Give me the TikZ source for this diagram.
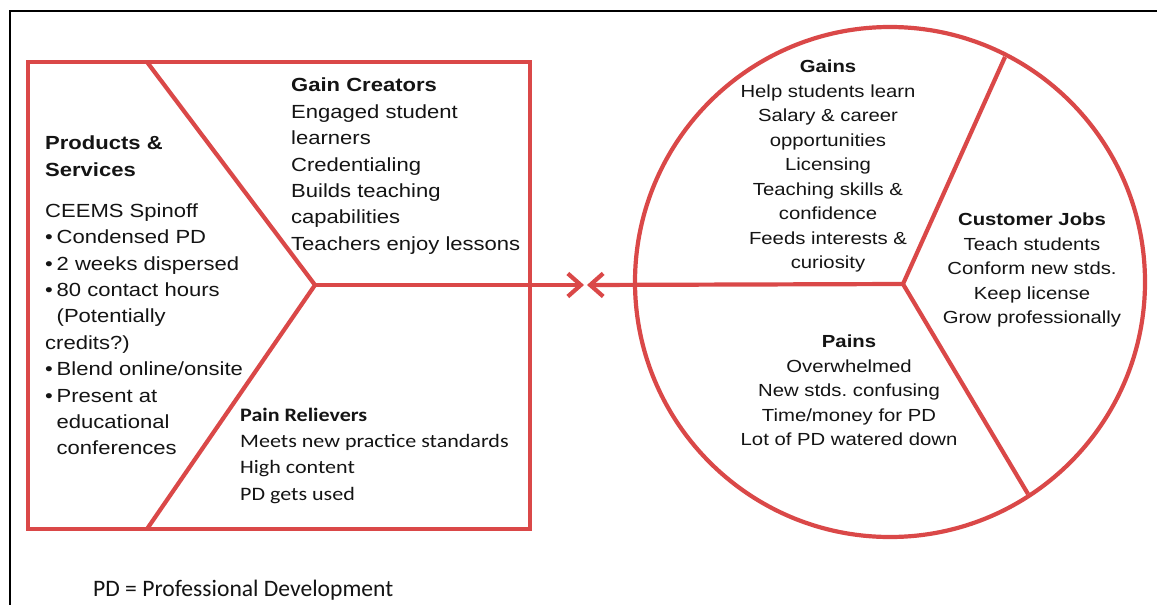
\documentclass[tikz,border=0pt]{standalone}
\usepackage{fontspec}
\setmainfont{Liberation Sans}
\newfontfamily\arialS{Liberation Sans}[FakeStretch=1.16]
\newfontfamily\calS{Carlito}[FakeStretch=1.16]
\newfontfamily\calN{Carlito}
\usetikzlibrary{arrows.meta}
\definecolor{vpred}{RGB}{218,72,72}
\definecolor{txtc}{RGB}{20,20,20}
\newcommand{\bl}{\makebox[11.5pt][l]{•}}
\newcommand{\ind}{\hspace*{11.5pt}}
\frenchspacing
\begin{document}
\begin{tikzpicture}[x=1pt,y=-1pt,
  redline/.style={draw=vpred,line width=4.2pt,line join=miter},
  frameline/.style={draw=black,line width=2.4pt},
  arrowline/.style={draw=vpred,line width=4.2pt,-{Straight Barb[length=13pt,width=23pt]}},
  txtL/.style={inner sep=0pt,align=left,text=txtc,font={\arialS\fontsize{19}{26.4}\selectfont}},
  txtP/.style={inner sep=0pt,align=left,text=txtc,font={\calS\fontsize{19}{26.4}\selectfont}},
  txtC/.style={inner sep=0pt,align=center,text=txtc,font={\arialS\fontsize{17.5}{24.5}\selectfont}}]
\useasboundingbox (0,0) rectangle (1157,605);
\fill[white] (0,0) rectangle (1157,605);
% frame
\draw[frameline] (10,605) -- (10,11) -- (1157,11);
% value proposition box
\draw[redline] (28,62) rectangle (530,529);
\coordinate (jl) at (315,285);
\coordinate (dt) at (147,62);
\coordinate (db) at (147,529);
\draw[redline] (dt) -- (jl) -- (db);
% customer circle
\coordinate (cc) at (890,282);
\draw[redline] (cc) circle (255);
\coordinate (jr) at (903,284);
\coordinate (rt) at (1005,57);
\coordinate (rb) at (1028,494);
\draw[redline] (rt) -- (jr) -- (rb);
% connectors
\coordinate (tipL) at (584,285);
\coordinate (tipR) at (587,285);
\draw[arrowline] (jl) -- (tipL);
\draw[arrowline] (jr) -- (tipR);
% texts
\node[txtL,anchor=north west] (ps) at (45,136) {\textbf{Products \&}\\ \textbf{Services}\\[14.6pt]
CEEMS Spinoff\\ \bl Condensed PD\\ \bl 2 weeks dispersed\\ \bl 80 contact hours\\ \ind(Potentially\\ credits?)\\ \bl Blend online/onsite\\ \bl Present at\\ \ind educational\\ \ind conferences};
\node[txtL,anchor=north west] (gc) at (291,78) {\textbf{Gain Creators}\\ Engaged student\\ learners\\ Credentialing\\ Builds teaching\\ capabilities\\ Teachers enjoy lessons};
\node[txtP,anchor=north west] (pr) at (240,407.5) {\textbf{Pain Relievers}\\ Meets new practice standards\\ High content\\ PD gets used};
\node[txtC,anchor=north] (gn) at (828,60) {\textbf{Gains}\\ Help students learn\\ Salary \& career\\ opportunities\\ Licensing\\ Teaching skills \&\\ confidence\\ Feeds interests \&\\ curiosity};
\node[txtC,anchor=north] (cj) at (1032,213) {\textbf{Customer Jobs}\\ Teach students\\ Conform new stds.\\ Keep license\\ Grow professionally};
\node[txtC,anchor=north] (pn) at (849,335) {\textbf{Pains}\\ Overwhelmed\\ New stds. confusing\\ Time/money for PD\\ Lot of PD watered down};
\node[inner sep=0pt,anchor=base west,text=txtc,font={\calN\fontsize{23.6}{27}\selectfont}] (fn) at (93,596) {PD = Professional Development};
\end{tikzpicture}
\end{document}
